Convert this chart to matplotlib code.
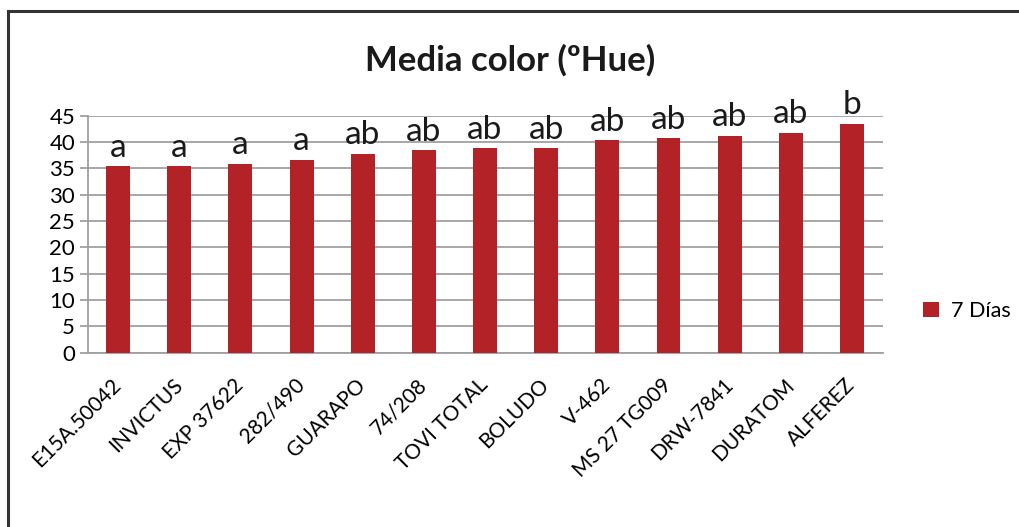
import matplotlib
matplotlib.use("Agg")
import matplotlib.pyplot as plt
from matplotlib.lines import Line2D
from matplotlib.patches import Patch

categories = ["E15A.50042", "INVICTUS", "EXP 37622", "282/490", "GUARAPO", "74/208",
              "TOVI TOTAL", "BOLUDO", "V-462", "MS 27 TG009", "DRW-7841", "DURATOM", "ALFEREZ"]
values = [35.4, 35.4, 35.8, 36.6, 37.7, 38.4, 38.8, 38.8, 40.3, 40.7, 41.1, 41.8, 43.4]
letters = ["a", "a", "a", "a", "ab", "ab", "ab", "ab", "ab", "ab", "ab", "ab", "b"]
yticks = [0, 5, 10, 15, 20, 25, 30, 35, 40, 45]
series_name = "7 Días"
title = "Media color (ºHue)"

plt.rcParams['font.family'] = ['Lato', 'DejaVu Sans']
bar_color = "#B22226"
grid_color = "#A0A0A0"

fig = plt.figure(figsize=(10.2, 5.27), dpi=100)
ax = fig.add_axes([0.0858, 0.3307, 0.7795, 0.4498])

x = list(range(len(categories)))
ax.bar(x, values, width=0.39, color=bar_color, zorder=3)
ax.set_xlim(-0.5, len(categories) - 0.5)
ax.set_ylim(0, 45)
ax.set_yticks(yticks)
ax.set_yticklabels([str(v) for v in yticks], fontsize=16)
ax.yaxis.grid(True, color=grid_color, linewidth=1.3, zorder=0)
ax.tick_params(axis='y', length=6, color=grid_color, width=1.3, pad=3)
ax.tick_params(axis='x', length=0, pad=21)
ax.set_xticks(x)
ax.set_xticklabels(categories, rotation=45, ha='right', va='center',
                   rotation_mode='anchor', fontsize=15)
for s in ['top', 'right']:
    ax.spines[s].set_visible(False)
for s in ['left', 'bottom']:
    ax.spines[s].set_color(grid_color)
    ax.spines[s].set_linewidth(1.3)

for xi, v, l in zip(x, values, letters):
    ax.annotate(l, (xi, v), xytext=(0, 7), textcoords='offset points',
                ha='center', va='baseline', fontsize=24, color='#1a1a1a')

fig.text(0.5, 0.885, title, ha='center', va='center', fontsize=25, fontweight='bold', color='#1a1a1a')

handles = [Patch(facecolor=bar_color, edgecolor='none')]
fig.legend(handles, [series_name], loc='center left', bbox_to_anchor=(0.886, 0.41),
           frameon=False, fontsize=15.5, handlelength=0.75, handleheight=0.75, handletextpad=0.55)

# outer border (top and left visible)
fig.add_artist(Line2D([8/1020, 1.0], [1 - 11/527, 1 - 11/527], transform=fig.transFigure, color='#333333', lw=2.2))
fig.add_artist(Line2D([8/1020, 8/1020], [0.0, 1 - 11/527], transform=fig.transFigure, color='#333333', lw=2.2))

fig.savefig("out.png", dpi=100)
